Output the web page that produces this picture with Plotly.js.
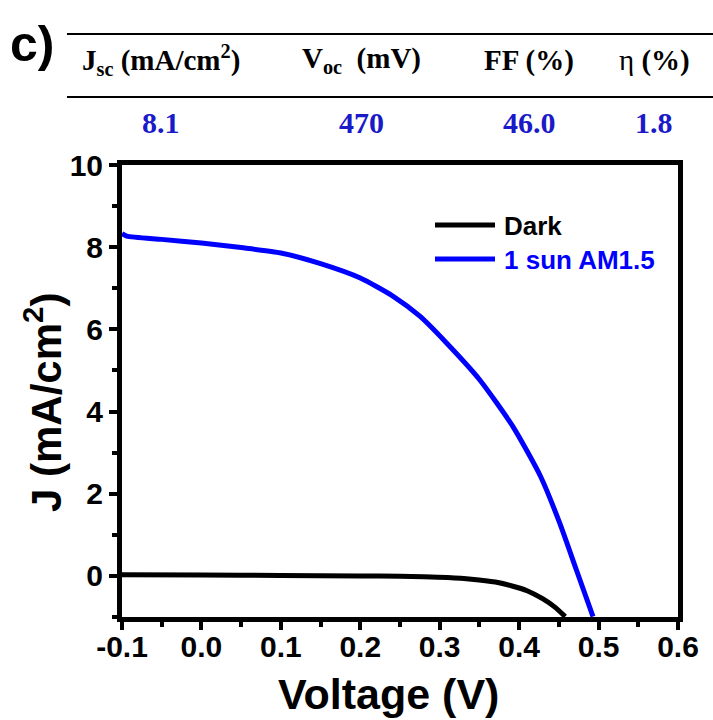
<!DOCTYPE html>
<html>
<head>
<meta charset="utf-8">
<script src="https://cdn.plot.ly/plotly-3.0.1.min.js"></script>
<style>html,body{margin:0;padding:0;background:#fff;}</style>
</head>
<body>
<div id="chart" style="width:713px;height:720px;"></div>
<script>
// ---- data ----
const darkV = [-0.1, 0.0, 0.1, 0.2, 0.25, 0.28, 0.31, 0.34, 0.37, 0.39, 0.41, 0.43, 0.445, 0.458];
const darkJ = [0.03, 0.02, 0.01, 0.0, -0.01, -0.02, -0.04, -0.08, -0.15, -0.24, -0.36, -0.56, -0.76, -0.99];
const sunV = [-0.1, -0.094, -0.05, 0.0, 0.05, 0.1, 0.15, 0.2, 0.241, 0.275, 0.308, 0.35, 0.392, 0.427, 0.451, 0.472, 0.493];
const sunJ = [8.33, 8.27, 8.19, 8.10, 7.99, 7.86, 7.60, 7.25, 6.81, 6.32, 5.68, 4.78, 3.64, 2.42, 1.29, 0.15, -0.99];
const seriesNames = ['Dark', '1 sun AM1.5'];
const xTickVals = [-0.1, 0.0, 0.1, 0.2, 0.3, 0.4, 0.5, 0.6];
const xTickText = ['-0.1', '0.0', '0.1', '0.2', '0.3', '0.4', '0.5', '0.6'];
const yTickVals = [0, 2, 4, 6, 8, 10];
const yTickText = ['0', '2', '4', '6', '8', '10'];
const tableHeaders = ['<b>J<sub>sc</sub> (mA/cm<sup>2</sup>)</b>', '<b>V<sub>oc</sub>  (mV)</b>', '<b>FF (%)</b>', 'η <b>(%)</b>'];
const tableValues = ['8.1', '470', '46.0', '1.8'];
const panelLabel = 'c)';
const xTitle = 'Voltage (V)';
const yTitle = 'J (mA/cm<sup>2</sup>)';

// ---- layout helpers (pixel -> paper) ----
const W = 713, H = 720;
const M = {l: 122, r: 35, t: 165, b: 103};
const PW = W - M.l - M.r, PH = H - M.t - M.b;
const px = x => (x - M.l) / PW;
const py = y => (H - M.b - y) / PH;

const sans = 'Liberation Sans, Arial, sans-serif';
const serif = 'Liberation Serif, Times New Roman, serif';
const colors = ['#000000', '#0000ff'];

const traces = [
  {x: darkV, y: darkJ, name: seriesNames[0], mode: 'lines', line: {color: colors[0], width: 5, shape: 'spline', smoothing: 0.6}, cliponaxis: true},
  {x: sunV, y: sunJ, name: seriesNames[1], mode: 'lines', line: {color: colors[1], width: 5, shape: 'spline', smoothing: 0.6}, cliponaxis: true}
];

const colX = [161, 361, 529, 654];
const annotations = [];
tableHeaders.forEach((t, i) => annotations.push({
  text: t, xref: 'paper', yref: 'paper', x: px(colX[i]), y: py(60), xanchor: 'center', yanchor: 'middle',
  showarrow: false, font: {family: serif, size: 29, color: '#000'}
}));
tableValues.forEach((t, i) => annotations.push({
  text: '<b>' + t + '</b>', xref: 'paper', yref: 'paper', x: px(colX[i]), y: py(123), xanchor: 'center', yanchor: 'middle',
  showarrow: false, font: {family: serif, size: 30, color: '#1a1ac8'}
}));
annotations.push({text: '<b>' + panelLabel + '</b>', xref: 'paper', yref: 'paper', x: px(8), y: py(44), xanchor: 'left', yanchor: 'middle',
  showarrow: false, font: {family: sans, size: 50, color: '#000'}});
annotations.push({text: '<b>' + xTitle + '</b>', xref: 'paper', yref: 'paper', x: px(388), y: py(694), xanchor: 'center', yanchor: 'middle',
  showarrow: false, font: {family: sans, size: 43, color: '#000'}});
annotations.push({text: '<b>' + yTitle + '</b>', xref: 'paper', yref: 'paper', x: px(43), y: py(403), xanchor: 'center', yanchor: 'middle',
  textangle: -90, showarrow: false, font: {family: sans, size: 42, color: '#000'}});
// legend
const legY = [226, 260];
seriesNames.forEach((n, i) => annotations.push({
  text: '<b>' + n + '</b>', xref: 'paper', yref: 'paper', x: px(502), y: py(legY[i]), xanchor: 'left', yanchor: 'middle',
  showarrow: false, font: {family: sans, size: 26, color: colors[i]}
}));

const shapes = [
  {type: 'line', xref: 'paper', yref: 'paper', x0: px(67), x1: px(713), y0: py(34), y1: py(34), line: {color: '#000', width: 2}},
  {type: 'line', xref: 'paper', yref: 'paper', x0: px(67), x1: px(713), y0: py(97), y1: py(97), line: {color: '#000', width: 2}}
];
seriesNames.forEach((n, i) => shapes.push({
  type: 'line', xref: 'paper', yref: 'paper', x0: px(435), x1: px(495), y0: py(legY[i] - 1), y1: py(legY[i] - 1),
  line: {color: colors[i], width: 5}
}));

const axisCommon = {
  showline: true, linewidth: 5, linecolor: '#000', mirror: true,
  showgrid: false, zeroline: false,
  ticks: 'outside', ticklen: 8, tickwidth: 4, tickcolor: '#000',
  tickfont: {family: sans, size: 30, color: '#000', weight: 700},
  fixedrange: true
};

const layout = {
  width: W, height: H, margin: M,
  paper_bgcolor: '#fff', plot_bgcolor: '#fff',
  showlegend: false,
  xaxis: Object.assign({}, axisCommon, {
    range: [-0.1, 0.6], tickmode: 'array', tickvals: xTickVals, ticktext: xTickText,
    ticklabelstandoff: -9,
    minor: {dtick: 0.05, tick0: 0, ticks: 'outside', ticklen: 5, tickwidth: 4, tickcolor: '#000', showgrid: false}
  }),
  yaxis: Object.assign({}, axisCommon, {
    range: [-1, 10], tickmode: 'array', tickvals: yTickVals, ticktext: yTickText,
    minor: {dtick: 1, tick0: 0, ticks: 'outside', ticklen: 5, tickwidth: 4, tickcolor: '#000', showgrid: false}
  }),
  annotations: annotations,
  shapes: shapes
};

Plotly.newPlot('chart', traces, layout, {displayModeBar: false, staticPlot: true});
</script>
</body>
</html>
